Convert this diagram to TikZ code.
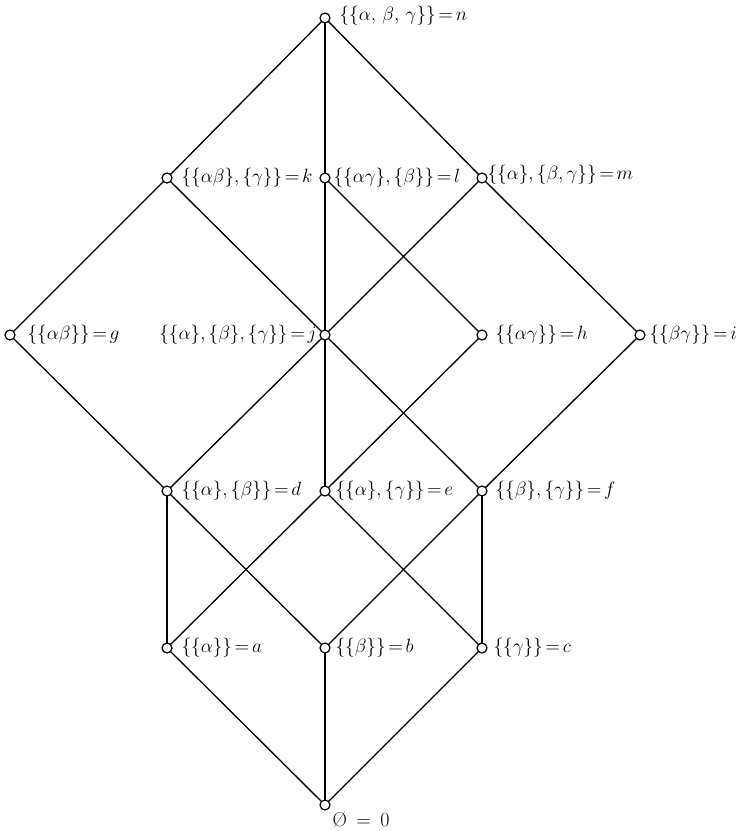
\documentclass[tikz,border=0pt]{standalone}
\usepackage{amssymb}
\newcommand{\eqq}{\mskip2.5mu{=}\mskip2.5mu}
\begin{document}
\begin{tikzpicture}[x=0.75pt,y=-0.75pt,
  pt/.style={circle,draw,fill=white,line width=0.9pt,inner sep=0pt,minimum size=7.5pt},
  lab/.style={font=\fontsize{15}{18}\selectfont,inner sep=1pt},
  edge/.style={line width=1pt}]
\useasboundingbox (0,0) rectangle (742,831);
\coordinate (N) at (325,18);
\coordinate (K) at (167,178);
\coordinate (L) at (325,178);
\coordinate (M) at (482,178);
\coordinate (G) at (10,335);
\coordinate (J) at (325,335);
\coordinate (H) at (482,335);
\coordinate (I) at (640,335);
\coordinate (D) at (167,491);
\coordinate (E) at (325,491);
\coordinate (F) at (482,491);
\coordinate (A) at (167,648);
\coordinate (B) at (325,648);
\coordinate (C) at (482,648);
\coordinate (O) at (325,805);
\foreach \u/\v in {N/K,N/L,N/M,K/G,K/J,L/J,L/H,M/J,M/I,G/D,J/D,J/E,J/F,H/E,I/F,D/A,D/B,E/A,E/C,F/B,F/C,A/O,B/O,C/O}
  \draw[edge] (\u) -- (\v);
\foreach \p in {N,K,L,M,G,J,H,I,D,E,F,A,B,C,O}
  \node[pt] (n\p) at (\p) {};
\node[lab,anchor=west] (tN) at (338,16) {$\{\{\alpha,\,\beta,\,\gamma\}\}\eqq n$};
\node[lab,anchor=west] (tK) at (180,178) {$\{\{\alpha\beta\},\{\gamma\}\}\eqq k$};
\node[lab,anchor=west] (tL) at (332,178) {$\{\{\alpha\gamma\},\{\beta\}\}\eqq l$};
\node[lab,anchor=west] (tM) at (486,175) {$\{\{\alpha\},\{\beta,\gamma\}\}\eqq m$};
\node[lab,anchor=west] (tG) at (26,335) {$\{\{\alpha\beta\}\}\eqq g$};
\node[lab,anchor=east] (tJ) at (318,335) {$\{\{\alpha\},\{\beta\},\{\gamma\}\}\eqq j$};
\node[lab,anchor=west] (tH) at (494,335) {$\{\{\alpha\gamma\}\}\eqq h$};
\node[lab,anchor=west] (tI) at (648,335) {$\{\{\beta\gamma\}\}\eqq i$};
\node[lab,anchor=west] (tD) at (180,491) {$\{\{\alpha\},\{\beta\}\}\eqq d$};
\node[lab,anchor=west] (tE) at (334,491) {$\{\{\alpha\},\{\gamma\}\}\eqq e$};
\node[lab,anchor=west] (tF) at (494,491) {$\{\{\beta\},\{\gamma\}\}\eqq f$};
\node[lab,anchor=west] (tA) at (180,648) {$\{\{\alpha\}\}\eqq a$};
\node[lab,anchor=west] (tB) at (334,648) {$\{\{\beta\}\}\eqq b$};
\node[lab,anchor=west] (tC) at (492,648) {$\{\{\gamma\}\}\eqq c$};
\node[lab,anchor=west] (tO) at (331,820) {\O\ \,$=$\,\ 0};
\end{tikzpicture}
\end{document}
